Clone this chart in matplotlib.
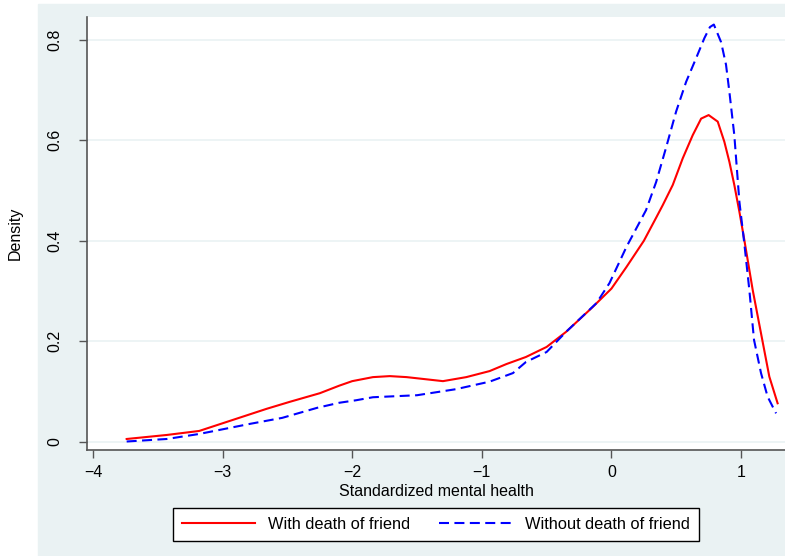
import matplotlib.pyplot as plt
from matplotlib.patches import Rectangle

plt.rcParams['font.family'] = ['Liberation Sans', 'DejaVu Sans']

# kernel density estimates
x_with = [-3.74, -3.43, -3.18, -2.92, -2.66, -2.48, -2.25, -2.10, -2.0, -1.84, -1.71,
          -1.58, -1.30, -1.12, -0.94, -0.81, -0.66, -0.50, -0.35, -0.146, 0.0, 0.116,
          0.25, 0.347, 0.396, 0.473, 0.55, 0.627, 0.692, 0.750, 0.82, 0.871, 0.91, 0.948,
          0.987, 1.025, 1.09, 1.154, 1.218, 1.282]
y_with = [0.006, 0.014, 0.022, 0.044, 0.066, 0.080, 0.097, 0.112, 0.121, 0.129, 0.131,
          0.129, 0.121, 0.129, 0.141, 0.155, 0.169, 0.189, 0.219, 0.268, 0.305, 0.348,
          0.40, 0.447, 0.471, 0.511, 0.564, 0.610, 0.643, 0.650, 0.637, 0.597, 0.557, 0.511,
          0.458, 0.402, 0.302, 0.216, 0.130, 0.077]

x_without = [-3.74, -3.43, -3.18, -2.79, -2.54, -2.27, -2.10, -1.97, -1.84, -1.50, -1.20,
             -0.94, -0.76, -0.66, -0.50, -0.35, -0.116, -0.015, 0.116, 0.267, 0.345, 0.42,
             0.499, 0.576, 0.653, 0.717, 0.76, 0.79, 0.846, 0.884, 0.91, 0.948, 0.987,
             1.025, 1.064, 1.10, 1.154, 1.205, 1.27]
y_without = [0.001, 0.006, 0.016, 0.036, 0.048, 0.068, 0.078, 0.083, 0.089, 0.093, 0.105,
             0.120, 0.137, 0.159, 0.179, 0.219, 0.276, 0.316, 0.388, 0.461, 0.517, 0.584,
             0.657, 0.716, 0.763, 0.803, 0.825, 0.830, 0.795, 0.750, 0.696, 0.610, 0.478,
             0.395, 0.302, 0.203, 0.137, 0.090, 0.057]

xticks = [-4, -3, -2, -1, 0, 1]
xtick_labels = ['\u22124', '\u22123', '\u22122', '\u22121', '0', '1']
yticks = [0, 0.2, 0.4, 0.6, 0.8]
ytick_labels = ['0', '0.2', '0.4', '0.6', '0.8']

bg = '#EAF2F3'
fig = plt.figure(figsize=(7.85, 5.56), dpi=100)
fig.patches.append(Rectangle((38 / 785, 0), 1 - 38 / 785, 552 / 556,
                             transform=fig.transFigure, color=bg, zorder=-5))

ax = fig.add_axes([87 / 785, 106 / 556, 1 - 87 / 785, 433 / 556])
ax.set_zorder(2)
ax.set_facecolor('white')

ax.plot(x_with, y_with, color='#FF0000', lw=1.5, label='With death of friend')
ax.plot(x_without, y_without, color='#0000FF', lw=1.5, dashes=(4.8, 2.6),
        label='Without death of friend')

ax.set_xlim(-4.046, 1.339)
ax.set_ylim(-0.0159, 0.845)
ax.set_xticks(xticks)
ax.set_xticklabels(xtick_labels)
ax.set_yticks(yticks)
ax.set_yticklabels(ytick_labels, rotation=90, va='center')
ax.grid(axis='y', color=bg, lw=1.2)
ax.set_axisbelow(True)

for s in ['top', 'right']:
    ax.spines[s].set_visible(False)
for s in ['left', 'bottom']:
    ax.spines[s].set_color('#555555')
    ax.spines[s].set_linewidth(1.2)
ax.tick_params(length=6, width=1, color='#555555', labelsize=11.5, pad=5)
ax.tick_params(axis='y', pad=11.5)

ax.set_xlabel('Standardized mental health', fontsize=11.5, labelpad=3)
ax.set_ylabel('Density', fontsize=11.5, labelpad=18)

leg = fig.legend(loc='center', bbox_to_anchor=(436 / 785, 0.0567), ncol=2,
                 fontsize=11.8, frameon=True, fancybox=False, edgecolor='black',
                 handlelength=4.5, handletextpad=0.75, columnspacing=1.8,
                 borderpad=0.55)
leg.get_frame().set_linewidth(1)
leg.get_frame().set_facecolor('white')
leg.get_frame().set_alpha(1)

fig.savefig('out.png', dpi=100)
